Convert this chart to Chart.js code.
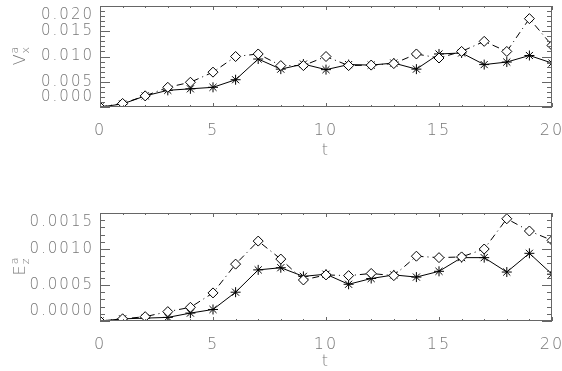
<!DOCTYPE html>
<html>
<head>
<meta charset="utf-8">
<script src="https://cdn.jsdelivr.net/npm/chart.js@4/dist/chart.umd.min.js"></script>
<style>
    body { margin: 0; background: #fff; width: 562px; height: 371px; overflow: hidden; position: relative; }
    canvas { position: absolute; left: 0; }
    #vx-chart { top: 0; }
    #ez-chart { top: 200px; }
</style>
</head>
<body>
<canvas id="vx-chart" width="562" height="160"></canvas>
<canvas id="ez-chart" width="562" height="171"></canvas>
<script>
// Time steps shared by both panels
let times = [0, 1, 2, 3, 4, 5, 6, 7, 8, 9, 10, 11, 12, 13, 14, 15, 16, 17, 18, 19, 20]
let xTicks = [0, 5, 10, 15, 20]

// Top panel, V_x^a (diamonds dash-dot, asterisks solid)
let vxDiamond = [0.0000, 0.0007, 0.0022, 0.0039, 0.0049, 0.0069, 0.0100, 0.0105, 0.0082, 0.0082, 0.0100,
    0.0082, 0.0083, 0.0086, 0.0105, 0.0097, 0.0110, 0.0130, 0.0110, 0.0175, 0.0122]
let vxStar = [0.0000, 0.0006, 0.0022, 0.0033, 0.0036, 0.0039, 0.0054, 0.0095, 0.0075, 0.0085, 0.0074,
    0.0084, 0.0083, 0.0087, 0.0075, 0.0105, 0.0107, 0.0084, 0.0089, 0.0102, 0.0087]
let vxTicks = [0.000, 0.005, 0.010, 0.015, 0.020]

// Bottom panel, E_z^a
let ezDiamond = [0.00000, 0.00003, 0.00006, 0.00013, 0.00019, 0.00039, 0.00079, 0.00111, 0.00086, 0.00057, 0.00064,
    0.00063, 0.00066, 0.00063, 0.00090, 0.00088, 0.00089, 0.00100, 0.00142, 0.00125, 0.00112]
let ezStar = [0.00000, 0.00003, 0.00004, 0.00005, 0.00011, 0.00016, 0.00040, 0.00071, 0.00074, 0.00062, 0.00065,
    0.00051, 0.00059, 0.00064, 0.00061, 0.00069, 0.00088, 0.00088, 0.00068, 0.00094, 0.00065]
let ezTicks = [0.0000, 0.0005, 0.0010, 0.0015]

let textColor = '#777'
let axisColor = '#666'
let fontFamily = '"DejaVu Sans", sans-serif'
let fontWeight = '200'
let spacing = '2px' // wide letter spacing like the IDL vector font

// Box with inward ticks on all sides, y labels and the rotated y title (IDL look)
let idlFrame = {
    id: 'idlFrame',
    beforeDraw(chart) {
        chart.ctx.letterSpacing = spacing
    },
    afterDraw(chart, args, opts) {
        let ctx = chart.ctx
        let a = chart.chartArea
        let x = chart.scales.x
        let y = chart.scales.y
        ctx.save()
        ctx.strokeStyle = axisColor
        ctx.lineWidth = 1
        ctx.strokeRect(a.left + 0.5, a.top + 0.5, a.right - a.left - 1, a.bottom - a.top - 1)

        ctx.beginPath()
        // x ticks: one per time step, longer on labelled ones
        times.forEach(function (t) {
            let px = Math.round(x.getPixelForValue(t)) + 0.5
            let len = xTicks.includes(t) ? 4 : 2
            ctx.moveTo(px, a.bottom); ctx.lineTo(px, a.bottom - len)
            ctx.moveTo(px, a.top); ctx.lineTo(px, a.top + len)
        })
        // y ticks: 5 minor steps per labelled step
        let n = Math.round((y.max - y.min) / opts.minorStep)
        for (let i = 0; i <= n; i++) {
            let py = Math.round(y.getPixelForValue(y.min + i * opts.minorStep)) + 0.5
            let len = i % 5 === 0 ? 10 : 5
            ctx.moveTo(a.left, py); ctx.lineTo(a.left + len, py)
            ctx.moveTo(a.right, py); ctx.lineTo(a.right - len, py)
        }
        ctx.stroke()

        // y tick labels, kept inside the box height
        ctx.fillStyle = textColor
        ctx.font = fontWeight + ' 15px ' + fontFamily
        ctx.textAlign = 'right'
        ctx.textBaseline = 'middle'
        opts.ticks.forEach(function (v) {
            let py = y.getPixelForValue(v)
            py = Math.min(Math.max(py, a.top + 9), a.bottom - 10)
            ctx.fillText(v.toFixed(opts.decimals), a.left - 6, py)
        })

        // y title: base letter with subscript and superscript, rotated
        ctx.letterSpacing = '0px'
        ctx.translate(19, (a.top + a.bottom) / 2)
        ctx.rotate(-Math.PI / 2)
        ctx.textAlign = 'left'
        ctx.textBaseline = 'alphabetic'
        ctx.font = fontWeight + ' 16px ' + fontFamily
        let wBase = ctx.measureText(opts.base).width
        ctx.font = fontWeight + ' 11px ' + fontFamily
        let wSmall = Math.max(ctx.measureText(opts.sub).width, ctx.measureText(opts.sup).width)
        let start = -(wBase + wSmall) / 2
        ctx.font = fontWeight + ' 16px ' + fontFamily
        ctx.fillText(opts.base, start, 6)
        ctx.font = fontWeight + ' 11px ' + fontFamily
        ctx.fillText(opts.sub, start + wBase + 1, 10)
        ctx.fillText(opts.sup, start + wBase + 1, -1)
        ctx.restore()
    }
}

function makeDatasets(diamonds, stars) {
    return [
        {
            data: diamonds,
            borderColor: '#000',
            borderWidth: 1,
            borderDash: [7, 4, 1, 4],
            pointStyle: 'rectRot',
            pointRadius: 5,
            pointBorderColor: '#000',
            pointBackgroundColor: '#fff',
            pointBorderWidth: 1
        },
        {
            data: stars,
            borderColor: '#000',
            borderWidth: 1,
            pointStyle: 'star',
            pointRadius: 5,
            pointBorderColor: '#000',
            pointBorderWidth: 1
        }
    ]
}

function makeOptions(yMax, padTop, xHeight, frame) {
    return {
        responsive: false,
        animation: false,
        layout: {padding: {left: 100, right: 10, top: padTop, bottom: 0}},
        plugins: {legend: {display: false}, tooltip: {enabled: false}, idlFrame: frame},
        scales: {
            x: {
                type: 'linear', min: 0, max: 20,
                grid: {display: false, drawTicks: false},
                border: {display: false},
                ticks: {stepSize: 5, autoSkip: false, maxRotation: 0, padding: 14, color: textColor,
                    font: {family: fontFamily, size: 16, weight: fontWeight}},
                title: {display: true, text: 't', color: textColor, padding: 0,
                    font: {family: fontFamily, size: 16, weight: fontWeight}},
                afterFit: function (s) {
                    s.height = xHeight
                    s.paddingLeft = 0
                    s.paddingRight = 0
                }
            },
            y: {display: false, min: 0, max: yMax}
        }
    }
}

new Chart(document.querySelector('#vx-chart'), {
    type: 'line',
    data: {labels: times, datasets: makeDatasets(vxDiamond, vxStar)},
    options: makeOptions(0.020, 1, 53,
        {minorStep: 0.001, ticks: vxTicks, decimals: 3, base: 'V', sub: 'x', sup: 'a'}),
    plugins: [idlFrame]
})

new Chart(document.querySelector('#ez-chart'), {
    type: 'line',
    data: {labels: times, datasets: makeDatasets(ezDiamond, ezStar)},
    options: makeOptions(0.0015, 13, 50,
        {minorStep: 0.0001, ticks: ezTicks, decimals: 4, base: 'E', sub: 'z', sup: 'a'}),
    plugins: [idlFrame]
})
</script>
</body>
</html>
